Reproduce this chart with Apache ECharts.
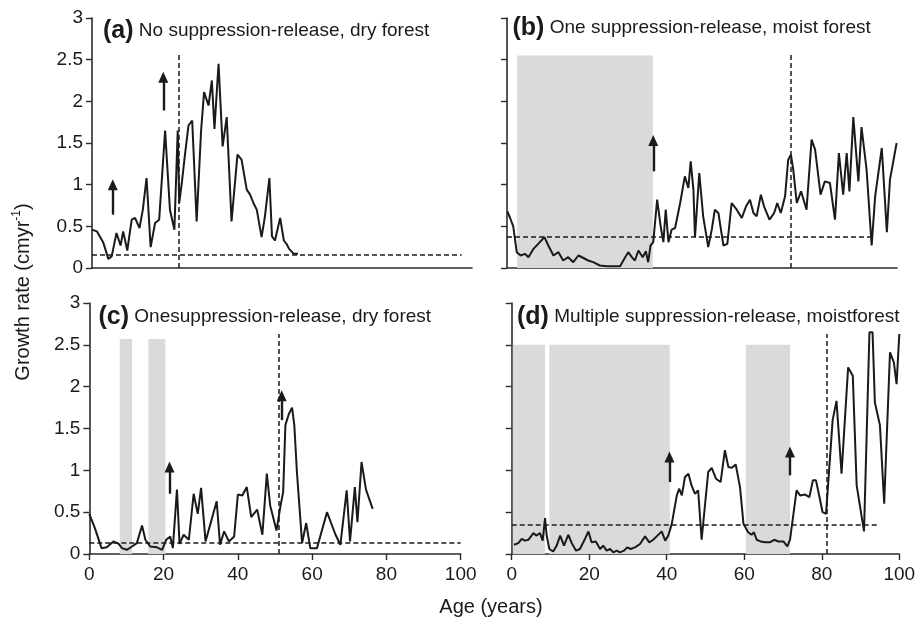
<!DOCTYPE html>
<html>
<head>
<meta charset="utf-8">
<script src="https://cdn.jsdelivr.net/npm/echarts@6/dist/echarts.min.js"></script>
<style>
html,body{margin:0;padding:0;background:#fff;}
#chart{width:921px;height:623px;}
</style>
</head>
<body>
<div id="chart"></div>
<script>
// ---------------- DATA ----------------
const xTicks = [0, 20, 40, 60, 80, 100];
const yTicks = [0, 0.5, 1, 1.5, 2, 2.5, 3];

const panelTitles = ['(a)', '(b)', '(c)', '(d)'];
const panelSubtitles = [
  'No suppression-release, dry forest',
  'One suppression-release, moist forest',
  'Onesuppression-release, dry forest',
  'Multiple suppression-release, moistforest'
];
const yAxisTitle = ['Growth rate (cmyr', '-1', ')'];
const xAxisTitle = 'Age (years)';

// (a) No suppression-release, dry forest
const aYears = [0, 1.3, 3.0, 4.4, 5.3, 6.6, 7.7, 8.4, 9.5, 10.7, 11.6, 12.8, 13.7, 14.7, 15.8, 17.0, 18.1, 19.7, 21.0, 22.2, 23.1, 23.5, 24.2, 25.0, 26.0, 27.0, 28.2, 29.4, 30.2, 31.4, 32.3, 33.0, 34.1, 35.2, 36.3, 37.6, 39.2, 40.3, 41.7, 42.6, 43.5, 44.4, 45.7, 46.6, 47.8, 48.5, 49.3, 50.7, 51.7, 52.4, 53.1, 54.4, 55.5];
const aValues = [0.46, 0.44, 0.31, 0.11, 0.14, 0.42, 0.27, 0.44, 0.21, 0.58, 0.60, 0.48, 0.70, 1.08, 0.25, 0.54, 0.58, 1.65, 0.70, 0.46, 1.65, 0.78, 1.02, 1.34, 1.71, 1.77, 0.56, 1.65, 2.11, 1.95, 2.25, 1.67, 2.45, 1.46, 1.81, 0.56, 1.36, 1.30, 0.94, 0.88, 0.78, 0.70, 0.37, 0.62, 1.08, 0.38, 0.33, 0.60, 0.33, 0.29, 0.23, 0.17, 0.17];
const aRelease = [23.3, 2.59];          // vertical dashed: year, top
const aThreshold = [0.16, 99.6];       // horizontal dashed: value, end year
const aShade = [];
const aArrows = [[5.6, 0.64, 1.0], [19.2, 1.89, 2.29]];

// (b) One suppression-release, moist forest
const bYears = [0.1, 0.8, 1.6, 2.5, 3.5, 4.6, 5.5, 6.8, 8.0, 9.6, 10.6, 11.9, 13.2, 14.4, 15.7, 17.0, 18.3, 19.6, 20.8, 22.1, 23.8, 25.6, 27.3, 29.0, 30.3, 31.1, 32.0, 32.8, 33.7, 34.8, 35.6, 36.2, 36.8, 37.5, 38.5, 39.4, 40.1, 40.7, 41.4, 42.2, 43.1, 44.4, 45.6, 46.5, 47.1, 47.8, 48.2, 49.3, 50.3, 51.6, 52.5, 53.3, 54.2, 55.5, 56.5, 57.6, 58.9, 60.2, 61.3, 62.3, 63.2, 64.0, 65.1, 65.9, 67.3, 68.5, 69.3, 70.2, 71.3, 72.1, 72.8, 73.4, 74.3, 75.4, 76.8, 78.1, 79.0, 80.4, 81.5, 82.8, 84.1, 85.1, 86.2, 87.1, 87.8, 88.8, 90.1, 90.9, 92.2, 93.5, 94.4, 96.1, 97.4, 98.2, 99.9];
const bValues = [0.68, 0.60, 0.50, 0.19, 0.15, 0.17, 0.13, 0.23, 0.29, 0.37, 0.27, 0.15, 0.19, 0.09, 0.13, 0.07, 0.15, 0.12, 0.09, 0.07, 0.03, 0.02, 0.02, 0.02, 0.13, 0.19, 0.13, 0.09, 0.21, 0.13, 0.20, 0.07, 0.27, 0.31, 0.82, 0.50, 0.31, 0.70, 0.31, 0.46, 0.48, 0.78, 1.10, 0.96, 1.28, 0.94, 0.37, 1.14, 0.62, 0.25, 0.46, 0.70, 0.66, 0.27, 0.29, 0.78, 0.70, 0.60, 0.74, 0.82, 0.66, 0.62, 0.88, 0.74, 0.58, 0.66, 0.78, 0.66, 0.86, 1.30, 1.36, 1.18, 0.78, 0.92, 0.70, 1.54, 1.42, 0.88, 1.04, 1.02, 0.58, 1.38, 0.88, 1.38, 0.92, 1.81, 1.04, 1.69, 1.18, 0.27, 0.86, 1.44, 0.43, 1.06, 1.50];
const bRelease = [72.8, 2.59];
const bThreshold = [0.37, 93.2];
const bShade = [[2.6, 37.4, 2.55]];
const bArrows = [[37.5, 1.16, 1.53]];

// (c) One suppression-release, dry forest
const cYears = [0, 1.5, 3.3, 4.7, 6.5, 7.9, 8.8, 10.1, 11.5, 12.8, 14.2, 15.1, 16.4, 18.2, 19.6, 20.7, 21.8, 22.5, 23.6, 24.3, 25.4, 26.8, 28.1, 29.2, 30.1, 31.3, 32.8, 34.3, 35.2, 36.3, 37.6, 39.0, 40.0, 41.2, 42.4, 43.6, 45.2, 46.6, 47.8, 48.7, 50.4, 51.5, 52.2, 52.8, 53.7, 54.6, 55.2, 55.9, 57.3, 58.4, 59.5, 61.3, 64.0, 66.3, 67.6, 69.3, 70.2, 71.5, 72.2, 73.3, 74.5, 76.3];
const cValues = [0.48, 0.31, 0.07, 0.08, 0.15, 0.12, 0.07, 0.05, 0.09, 0.13, 0.34, 0.17, 0.09, 0.08, 0.05, 0.17, 0.21, 0.07, 0.77, 0.12, 0.23, 0.17, 0.72, 0.48, 0.79, 0.15, 0.39, 0.63, 0.11, 0.27, 0.15, 0.21, 0.71, 0.70, 0.80, 0.44, 0.53, 0.23, 0.96, 0.58, 0.28, 0.58, 0.74, 1.54, 1.67, 1.75, 1.54, 0.98, 0.13, 0.37, 0.07, 0.07, 0.50, 0.23, 0.11, 0.76, 0.15, 0.80, 0.38, 1.10, 0.77, 0.54];
const cRelease = [51.1, 2.63];
const cThreshold = [0.13, 100];
const cShade = [[8.2, 11.5, 2.57], [15.9, 20.5, 2.57]];
const cArrows = [[21.6, 0.72, 1.04], [51.8, 1.60, 1.89]];

// (d) Multiple suppression-release, moist forest
const dYears = [0.6, 1.7, 2.6, 3.4, 4.3, 5.6, 6.3, 7.3, 8.0, 8.6, 9.0, 9.7, 10.7, 11.6, 12.5, 13.5, 14.6, 15.5, 16.6, 17.6, 18.9, 19.8, 20.6, 21.7, 22.8, 23.6, 24.5, 25.4, 26.2, 27.1, 27.9, 29.0, 29.8, 30.7, 31.8, 33.1, 34.4, 35.5, 36.5, 37.6, 38.7, 39.6, 40.4, 41.3, 42.6, 43.2, 43.9, 44.7, 45.6, 46.4, 47.3, 48.1, 49.0, 50.7, 51.6, 52.7, 53.9, 55.0, 55.9, 56.8, 57.8, 58.9, 59.8, 61.0, 61.9, 62.5, 63.2, 64.2, 65.4, 66.6, 67.7, 68.8, 70.1, 71.1, 71.8, 73.5, 74.4, 75.7, 76.8, 77.7, 78.5, 79.5, 80.2, 81.1, 82.8, 83.8, 85.1, 86.8, 88.0, 89.0, 90.9, 92.3, 93.1, 93.7, 95.0, 96.1, 97.6, 98.6, 99.3, 100];
const dValues = [0.11, 0.13, 0.18, 0.16, 0.17, 0.25, 0.22, 0.25, 0.16, 0.43, 0.23, 0.06, 0.03, 0.10, 0.22, 0.10, 0.23, 0.13, 0.04, 0.06, 0.18, 0.27, 0.14, 0.15, 0.06, 0.10, 0.04, 0.06, 0.02, 0.04, 0.02, 0.04, 0.08, 0.06, 0.08, 0.12, 0.21, 0.14, 0.17, 0.22, 0.27, 0.16, 0.22, 0.36, 0.70, 0.78, 0.70, 0.92, 0.96, 0.82, 0.72, 0.76, 0.17, 0.98, 1.03, 0.90, 0.86, 1.24, 1.04, 1.03, 1.07, 0.80, 0.36, 0.26, 0.23, 0.26, 0.17, 0.15, 0.14, 0.14, 0.17, 0.15, 0.15, 0.09, 0.17, 0.76, 0.70, 0.71, 0.68, 0.88, 0.88, 0.66, 0.50, 0.48, 1.60, 1.83, 0.96, 2.23, 2.13, 0.82, 0.27, 2.65, 2.65, 1.81, 1.54, 0.60, 2.41, 2.29, 2.03, 2.63];
const dRelease = [81.3, 2.63];
const dThreshold = [0.35, 94.6];
const dShade = [[0.3, 8.6, 2.5], [9.7, 40.8, 2.5], [60.4, 71.8, 2.5]];
const dArrows = [[40.7, 0.86, 1.16], [71.8, 0.94, 1.22]];

// ---------------- LAYOUT / STYLE ----------------
const FONT = '"Liberation Sans", Arial, Helvetica, sans-serif';
const INK = '#1a1a1a';
const AXIS = '#2b2b2b';

const panels = [
  {years: aYears, values: aValues, rel: aRelease, thr: aThreshold, shade: aShade, arrows: aArrows,
   grid: {left: 92, top: 18, width: 380, height: 250}, xMax: 102.4, xLabels: false, yLabels: true,
   title: {left: 103, top: 16}},
  {years: bYears, values: bValues, rel: bRelease, thr: bThreshold, shade: bShade, arrows: bArrows,
   grid: {left: 507, top: 18, width: 390, height: 250}, xMax: 100, xLabels: false, yLabels: false,
   title: {left: 512.5, top: 13}},
  {years: cYears, values: cValues, rel: cRelease, thr: cThreshold, shade: cShade, arrows: cArrows,
   grid: {left: 89.3, top: 303, width: 371.4, height: 251}, xMax: 100, xLabels: true, yLabels: true,
   title: {left: 98.5, top: 302}},
  {years: dYears, values: dValues, rel: dRelease, thr: dThreshold, shade: dShade, arrows: dArrows,
   grid: {left: 511.7, top: 303, width: 387.6, height: 251}, xMax: 100, xLabels: true, yLabels: false,
   title: {left: 517, top: 302}}
];

const grids = [], xAxes = [], yAxes = [], series = [], titles = [];

panels.forEach((p, i) => {
  grids.push(Object.assign({containLabel: false}, p.grid));
  xAxes.push({
    type: 'value', gridIndex: i, min: 0, max: p.xMax, interval: 20,
    axisLine: {show: true, onZero: false, lineStyle: {color: AXIS, width: 1.6}},
    axisTick: {show: p.xLabels, length: 6, lineStyle: {color: AXIS, width: 1.4},
               customValues: xTicks},
    axisLabel: {show: p.xLabels, margin: 11, fontSize: 19, color: INK, fontFamily: FONT,
                customValues: xTicks},
    splitLine: {show: false}
  });
  yAxes.push({
    type: 'value', gridIndex: i, min: 0, max: 3, interval: 0.5,
    axisLine: {show: true, onZero: false, lineStyle: {color: AXIS, width: 1.6}},
    axisTick: {show: true, length: 6, lineStyle: {color: AXIS, width: 1.4}},
    axisLabel: {show: p.yLabels, margin: 9, fontSize: 19, color: INK, fontFamily: FONT},
    splitLine: {show: false}
  });

  const lineData = p.years.map((x, k) => [x, p.values[k]]);
  series.push({
    type: 'line', xAxisIndex: i, yAxisIndex: i, data: lineData,
    showSymbol: false, symbol: 'none', smooth: false, animation: false, silent: true, z: 3,
    lineStyle: {color: INK, width: 2},
    markArea: {
      silent: true, animation: false,
      itemStyle: {color: '#dadada'},
      data: p.shade.map(s => [{coord: [s[0], 0]}, {coord: [s[1], s[2]]}])
    }
  });
  // dashed reference lines
  series.push({
    type: 'line', xAxisIndex: i, yAxisIndex: i, data: [], animation: false, silent: true, z: 2,
    markLine: {
      silent: true, animation: false, symbol: ['none', 'none'], label: {show: false},
      lineStyle: {color: INK, width: 1.5, type: [5, 3]},
      data: [
        [{coord: [p.rel[0], 0]}, {coord: [p.rel[0], p.rel[1]]}],
        [{coord: [0, p.thr[0]]}, {coord: [p.thr[1], p.thr[0]]}]
      ]
    }
  });
  // arrows
  series.push({
    type: 'line', xAxisIndex: i, yAxisIndex: i, data: [], animation: false, silent: true, z: 4,
    markLine: {
      silent: true, animation: false, symbol: ['none', 'triangle'], symbolSize: [10, 11],
      label: {show: false},
      lineStyle: {color: INK, width: 2.4, type: 'solid'},
      data: p.arrows.map(a => [{coord: [a[0], a[1]]}, {coord: [a[0], a[2]]}])
    }
  });

  titles.push({
    left: p.title.left, top: p.title.top, padding: 0,
    text: '{b|' + panelTitles[i] + '}{n| ' + panelSubtitles[i] + '}',
    textStyle: {
      fontWeight: 'normal',
      rich: {
        b: {fontSize: 25, fontWeight: 'bold', color: INK, fontFamily: FONT, lineHeight: 30},
        n: {fontSize: 19, fontWeight: 'normal', color: INK, fontFamily: FONT, lineHeight: 30}
      }
    }
  });
});

const chart = echarts.init(document.getElementById('chart'), null, {renderer: 'canvas'});
chart.setOption({
  backgroundColor: '#ffffff',
  animation: false,
  title: titles,
  grid: grids,
  xAxis: xAxes,
  yAxis: yAxes,
  series: series,
  graphic: [
    {
      type: 'text', x: 23, y: 292, rotation: Math.PI / 2,
      style: {
        text: '{n|' + yAxisTitle[0] + '}{s|' + yAxisTitle[1] + '}{n|' + yAxisTitle[2] + '}',
        align: 'center', verticalAlign: 'middle',
        rich: {
          n: {fontSize: 20, fontFamily: FONT, fill: INK, lineHeight: 24},
          s: {fontSize: 12, fontFamily: FONT, fill: INK, lineHeight: 14, verticalAlign: 'top'}
        }
      }
    },
    {
      type: 'text', x: 491, y: 607,
      style: {text: xAxisTitle, fontSize: 20, fontFamily: FONT, fill: INK,
              align: 'center', verticalAlign: 'middle'}
    }
  ]
});
</script>
</body>
</html>
